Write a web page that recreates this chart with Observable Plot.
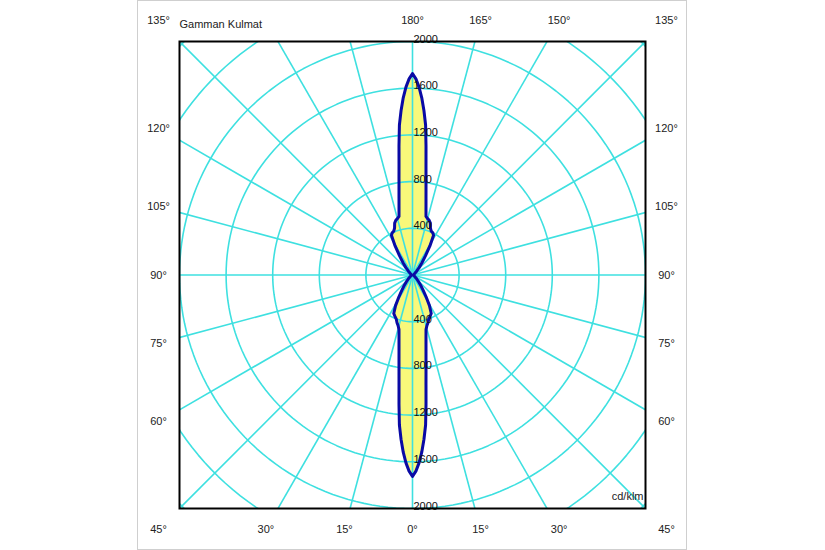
<!DOCTYPE html>
<html><head><meta charset="utf-8">
<script src="https://cdn.jsdelivr.net/npm/d3@7"></script>
<script src="https://cdn.jsdelivr.net/npm/@observablehq/plot@0.6"></script>
<style>
body{margin:0;background:#fff;}
#wrap{position:relative;width:825px;height:550px;}
#border{position:absolute;left:137px;top:0;width:548px;height:548px;border:1px solid #cfcfcf;}
#chart{position:absolute;left:0;top:0;}
</style></head><body>
<div id="wrap"><div id="border"></div><div id="chart"></div></div>
<script>
const title = "Gamman Kulmat";
const unitLabel = "cd/klm";
// gamma angle (deg, 0 = down, 180 = up) and luminous intensity (cd/klm)
const gammaAngles = [0,1,2,3,4,5,6,7,8,9,10,11,12,13,14,16,18,20,23,26,29,32,35,38,42,48,55,65,75,90,
  105,115,125,132,138,142,146,149,152,154,157,159,161,163,165,167,168,169,170,171,172,173,174,175,176,177,178,179,180];
const intensities = [1725,1680,1610,1520,1410,1290,1110,950,833,741,667,607,557,515,480,450,430,405,385,367,300,220,160,120,80,45,25,15,10,8,
  10,15,25,45,85,130,200,290,385,400,410,430,470,490,500,515,557,607,667,741,833,950,1110,1290,1410,1520,1610,1680,1725];
const gridRadii = [400,800,1200,1600,2000,2400,2800];
const radialLabels = [400,800,1200,1600,2000];
const angleTicks = [0,15,30,45,60,75,90,105,120,135,150,165,180];
const leftHiddenTicks = [150,165]; // top-left corner holds the title instead
const spokeAngles = d3.range(0,360,15);

const rad = d => d*Math.PI/180;

// photometric curve: right side (C0) then mirrored left side (C180)
const right = gammaAngles.map((g,i)=>({x: intensities[i]*Math.sin(rad(g)), y: -intensities[i]*Math.cos(rad(g))}));
const left = gammaAngles.map((g,i)=>({x: -intensities[i]*Math.sin(rad(g)), y: -intensities[i]*Math.cos(rad(g))})).reverse();
const curvePts = right.concat(left);

const circlePts = gridRadii.flatMap(r => d3.range(0,361,2).map(a => ({r, x: r*Math.cos(rad(a)), y: r*Math.sin(rad(a))})));

const labelHalf = 2180;
const angleLabelPts = angleTicks.flatMap(g => {
  const s = Math.sin(rad(g)), c = Math.cos(rad(g));
  const t = labelHalf/Math.max(Math.abs(s),Math.abs(c));
  const pts = [{x: t*s, y: -t*c, label: g+"°"}];
  if (g !== 0 && g !== 180 && !leftHiddenTicks.includes(g)) pts.push({x: -t*s, y: -t*c, label: g+"°"});
  return pts;
});
const radialLabelPts = radialLabels.flatMap(r => [{y: r, label: String(r)}, {y: -r, label: String(r)}]);

const grid = "#3ee0e0";
const plot = Plot.plot({
  width: 825, height: 550,
  marginLeft: 179, marginRight: 180, marginTop: 41, marginBottom: 42,
  x: {domain: [-2000, 2000], axis: null},
  y: {domain: [-2000, 2000], axis: null},
  style: {fontFamily: "'Liberation Sans', Arial, sans-serif", fontSize: "11px", background: "transparent", color: "#222"},
  marks: [
    Plot.line(curvePts, {x: "x", y: "y", fill: "#f8f87a", stroke: "none", curve: "linear-closed"}),
    Plot.line(circlePts, {x: "x", y: "y", z: "r", stroke: grid, strokeWidth: 1.6, clip: "frame"}),
    Plot.link(spokeAngles, {x1: () => 0, y1: () => 0, x2: a => 3000*Math.sin(rad(a)), y2: a => 3000*Math.cos(rad(a)), stroke: grid, strokeWidth: 1.6, clip: "frame"}),
    Plot.line(curvePts, {x: "x", y: "y", stroke: "#0a0aa5", strokeWidth: 3, curve: "linear-closed", strokeLinejoin: "round"}),
    Plot.text(radialLabelPts, {x: () => 0, y: "y", text: "label", textAnchor: "start", lineAnchor: "bottom", dx: 1, dy: 1, fill: "#111"}),
    Plot.frame({stroke: "#000", strokeWidth: 2}),
    Plot.text(angleLabelPts, {x: "x", y: "y", text: "label", fill: "#222"}),
    Plot.text([title], {frameAnchor: "top-left", textAnchor: "start", dy: -21, fill: "#222"}),
    Plot.text([unitLabel], {frameAnchor: "bottom-right", textAnchor: "end", dx: -2, dy: -9, fill: "#222"})
  ]
});
document.getElementById("chart").appendChild(plot);
</script>
</body></html>
